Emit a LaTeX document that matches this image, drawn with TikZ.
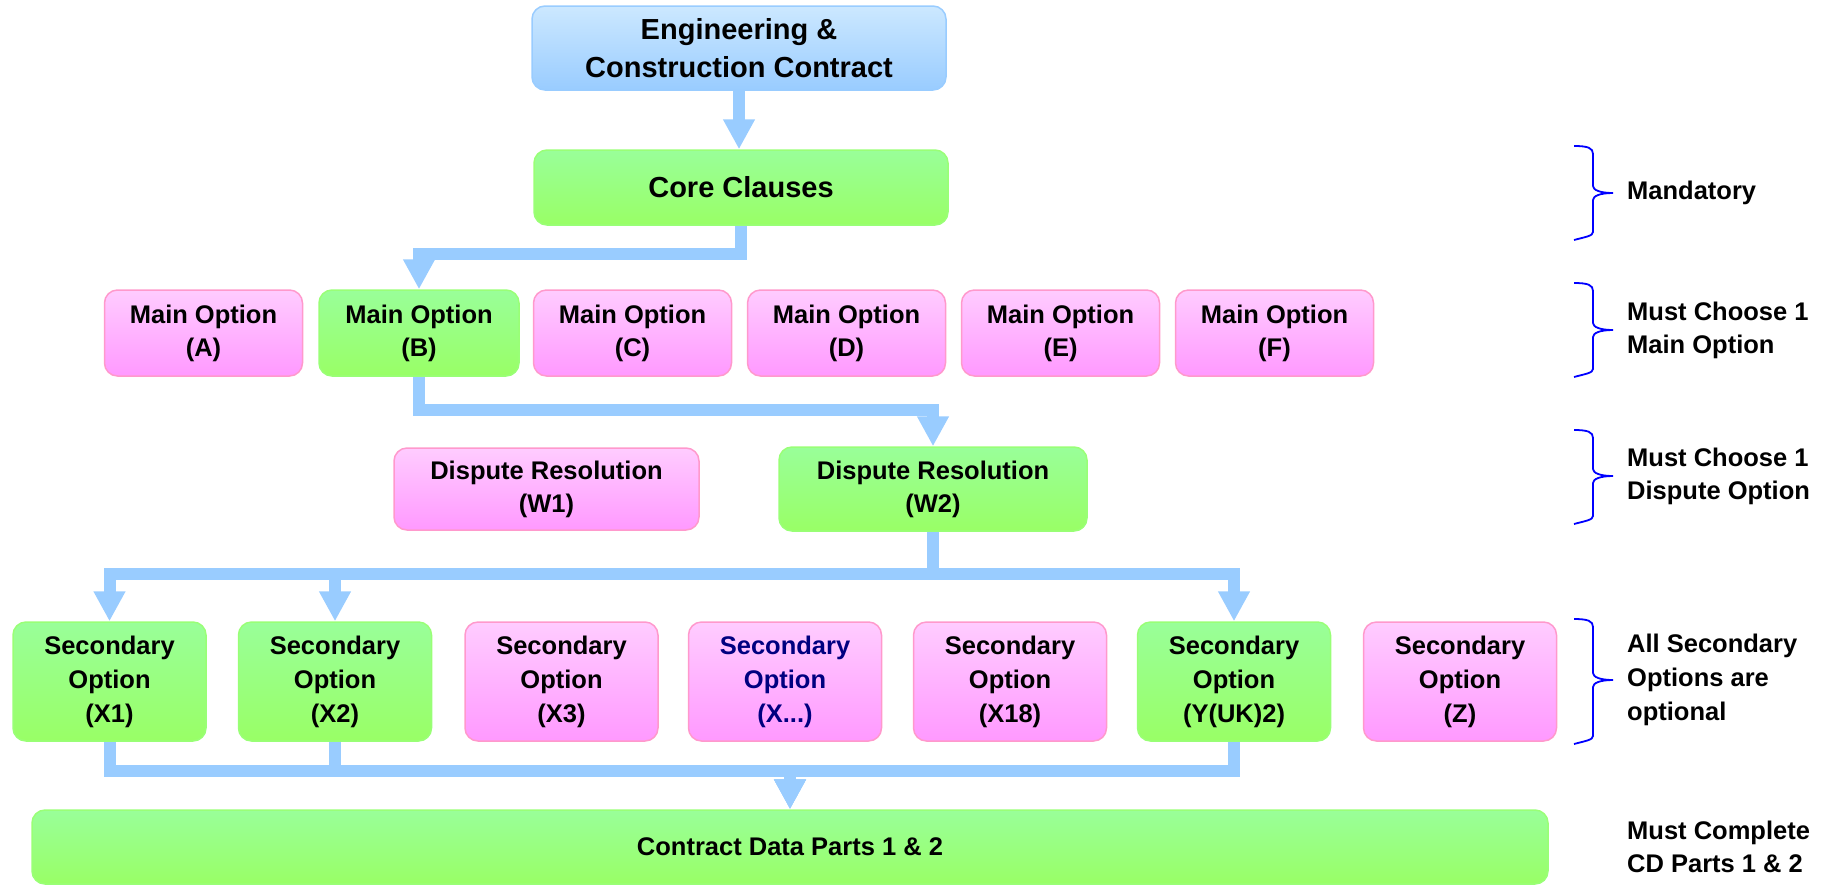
\documentclass[tikz,border=0pt]{standalone}
\usepackage{fontspec}
\setmainfont{Liberation Sans}
\usetikzlibrary{arrows.meta}
\definecolor{gtop}{HTML}{99FF99}
\definecolor{gbot}{HTML}{99FF66}
\definecolor{gline}{HTML}{99FF77}
\definecolor{ptop}{HTML}{FFCCFF}
\definecolor{pbot}{HTML}{FF99FF}
\definecolor{pline}{HTML}{FF99CC}
\definecolor{btop}{HTML}{CCE8FF}
\definecolor{bbot}{HTML}{99CCFF}
\definecolor{bline}{HTML}{99CCFF}
\definecolor{connc}{HTML}{99CCFF}
\definecolor{navytext}{HTML}{000080}
\newcommand{\mybrace}[3]{%
  \draw[bracestyle] (1574,#1) .. controls (1588,#1) and (1593,#1+2) .. (1593,#1+8)
    -- (1593,#2-7) .. controls (1593,#2-3) and (1600,#2) .. (1613,#2)
    .. controls (1600,#2) and (1593,#2+3) .. (1593,#2+7)
    -- (1593,#3-8) .. controls (1593,#3-4) and (1585,#3-3) .. (1574,#3);}
\tikzset{
  box/.style={rounded corners=13pt, line width=1.5pt, align=center, inner sep=0pt,
    font=\bfseries\fontsize{25.5}{33}\selectfont},
  bigbox/.style={box, font=\bfseries\fontsize{29}{38}\selectfont},
  sz/.style 2 args={minimum width=#1pt, minimum height=#2pt},
  gbox/.style={box, draw=gline, top color=gtop, bottom color=gbot},
  pbox/.style={box, draw=pline, top color=ptop, bottom color=pbot},
  bbox/.style={box, draw=bline, top color=btop, bottom color=bbot},
  secline/.style={font=\bfseries\fontsize{25.5}{34}\selectfont},
  cline/.style={draw=connc, line width=12pt, line join=miter,
    -{Triangle[width=30pt,length=30pt]}},
  bracestyle/.style={draw=blue, line width=1.8pt},
  lab/.style={anchor=west, align=left, inner sep=0pt,
    font=\bfseries\fontsize{25.5}{33}\selectfont},
}
\begin{document}
\begin{tikzpicture}[x=1pt,y=-1pt]
\useasboundingbox (0,0) rectangle (1822,884);
% top boxes
\node[bbox, bigbox, sz={414}{84}] (top) at (739,48) {Engineering \&\\Construction Contract};
\node[gbox, bigbox, sz={414}{75}] (core) at (741,187.5) {Core Clauses};
% main options
\node[pbox, sz={198}{86}] (mA) at (203.5,333) {Main Option\\(A)};
\node[gbox, sz={200}{86}] (mB) at (419,333) {Main Option\\(B)};
\node[pbox, sz={198}{86}] (mC) at (632.5,333) {Main Option\\(C)};
\node[pbox, sz={198}{86}] (mD) at (846.5,333) {Main Option\\(D)};
\node[pbox, sz={198}{86}] (mE) at (1060.5,333) {Main Option\\(E)};
\node[pbox, sz={198}{86}] (mF) at (1274.5,333) {Main Option\\(F)};
% dispute
\node[pbox, sz={305}{82}] (w1) at (546.5,489) {Dispute Resolution\\(W1)};
\node[gbox, sz={308}{84}] (w2) at (933,489) {Dispute Resolution\\(W2)};
% secondary
\node[gbox, secline, sz={193}{119}] (x1) at (109.5,681.5) {Secondary\\Option\\(X1)};
\node[gbox, secline, sz={193}{119}] (x2) at (335,681.5) {Secondary\\Option\\(X2)};
\node[pbox, secline, sz={193}{119}] (x3) at (561.5,681.5) {Secondary\\Option\\(X3)};
\node[pbox, secline, sz={193}{119}, text=navytext] (xd) at (785,681.5) {Secondary\\Option\\(X...)};
\node[pbox, secline, sz={193}{119}] (x18) at (1010,681.5) {Secondary\\Option\\(X18)};
\node[gbox, secline, sz={193}{119}] (yuk) at (1234,681.5) {Secondary\\Option\\(Y(UK)2)};
\node[pbox, secline, sz={193}{119}] (z) at (1460,681.5) {Secondary\\Option\\(Z)};
% contract data
\node[gbox, sz={1516}{74}] (cd) at (790,847) {Contract Data Parts 1 \& 2};
% connectors
\draw[cline] (top.south) -- (top.south |- core.north);
\draw[cline] (core.south) -- ++(0,28) -| (mB.north);
\draw[cline] (mB.south) -- ++(0,33) -| (w2.north);
\draw[cline] (w2.south) -- ++(0,42) -| (x1.north);
\draw[cline] (w2.south) -- ++(0,42) -| (x2.north);
\draw[cline] (w2.south) -- ++(0,42) -| (yuk.north);
\draw[cline] (x1.south) -- ++(0,29) -| (cd.north);
\draw[cline] (x2.south) -- ++(0,29) -| (cd.north);
\draw[cline] (yuk.south) -- ++(0,29) -| (cd.north);
% braces
\mybrace{146}{193}{240}
\mybrace{283}{330}{377}
\mybrace{430}{476}{524}
\mybrace{619}{680}{744}
% labels
\node[lab] (l1) at (1627,193) {Mandatory};
\node[lab] (l2) at (1627,330) {Must Choose 1\\Main Option};
\node[lab] (l3) at (1627,476) {Must Choose 1\\Dispute Option};
\node[lab, font=\bfseries\fontsize{25.5}{34}\selectfont] (l4) at (1627,680) {All Secondary\\Options are\\optional};
\node[lab] (l5) at (1627,847) {Must Complete\\CD Parts 1 \& 2};
\end{tikzpicture}
\end{document}
